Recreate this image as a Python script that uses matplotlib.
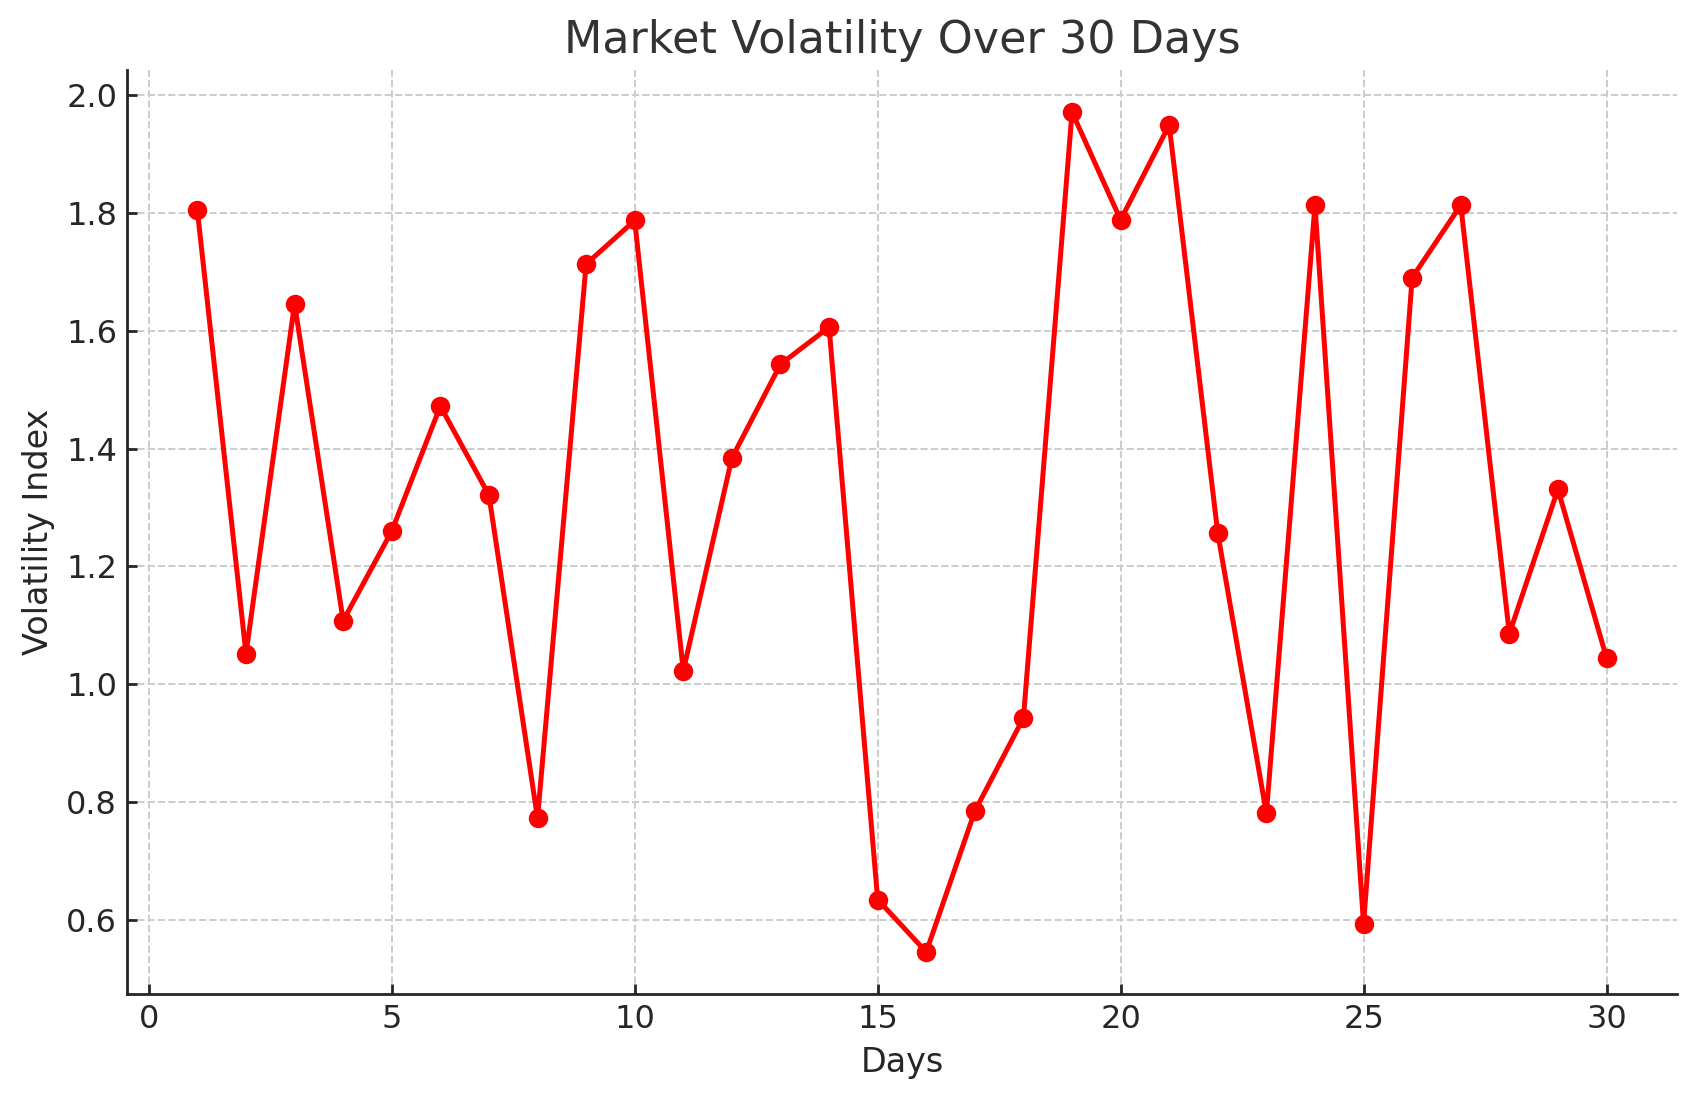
import numpy as np
import matplotlib
matplotlib.use('Agg')
import matplotlib.pyplot as plt

# 30 天的波动率指数
days = np.arange(1, 31)
volatility = [1.804, 1.052, 1.646, 1.108, 1.260, 1.472, 1.321, 0.773, 1.713, 1.787,
              1.023, 1.384, 1.543, 1.606, 0.635, 0.546, 0.785, 0.943, 1.971, 1.788,
              1.949, 1.256, 0.781, 1.813, 0.593, 1.690, 1.813, 1.086, 1.331, 1.045]

plt.rcParams['font.family'] = ['DejaVu Sans']

fig = plt.figure(figsize=(8.485, 5.505), dpi=200)
ax = fig.add_axes([0.0748, 0.0972, 0.9134, 0.8392])

ax.plot(days, volatility, color='red', marker='o', linewidth=1.8, markersize=6)

ax.set_title('Market Volatility Over 30 Days', fontsize=16, color='#333333')
ax.set_xlabel('Days', fontsize=12, color='#262626')
ax.set_ylabel('Volatility Index', fontsize=12, color='#262626')
ax.grid(True, linestyle='--', color='#cccccc', linewidth=0.7)
ax.set_axisbelow(True)

for side in ['top', 'right']:
    ax.spines[side].set_visible(False)
for side in ['left', 'bottom']:
    ax.spines[side].set_linewidth(1.0)
    ax.spines[side].set_color('#262626')
ax.tick_params(direction='in', length=3.5, width=1.0, labelsize=11.5, colors='#262626')

fig.savefig('out.png', dpi=200)
